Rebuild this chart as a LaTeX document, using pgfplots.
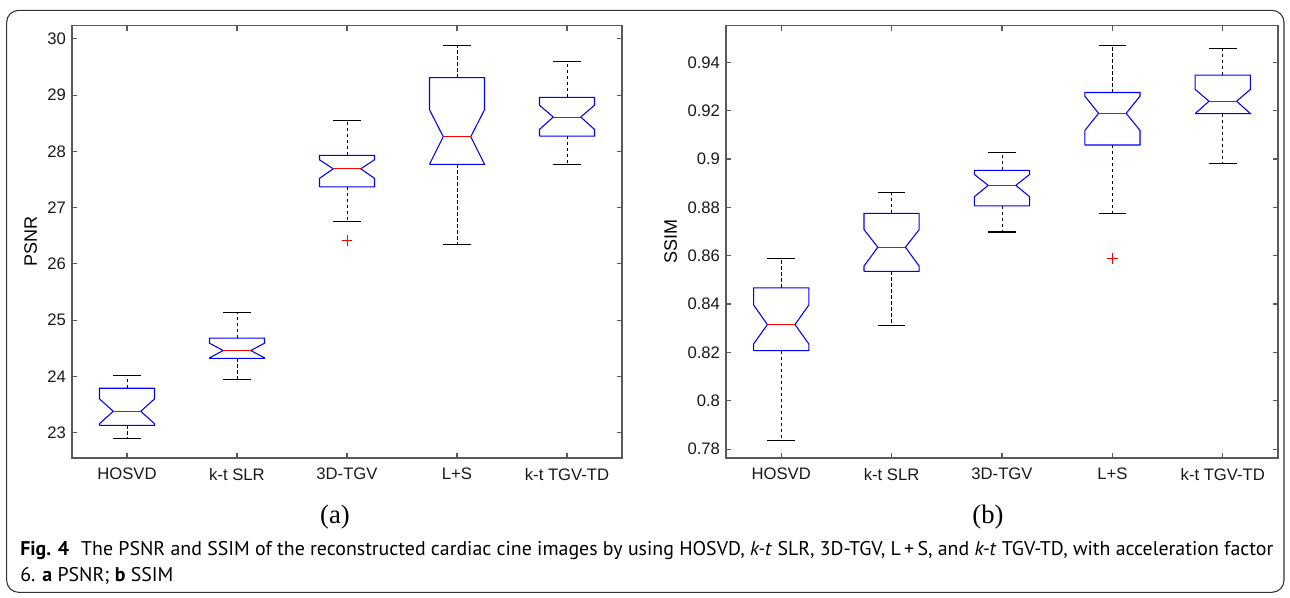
\documentclass[border=0pt]{standalone}
\usepackage{pgfplots}
\pgfplotsset{compat=1.18}
\usepackage{fontspec}
\setmainfont{Liberation Sans}
\newfontfamily\serifab{Liberation Serif}
\newfontfamily\capfont{PT Sans}
\definecolor{axgray}{RGB}{90,90,90}
% x, lower whisker, q1, notch low, median, notch high, q3, upper whisker
\newcommand{\nbox}[8]{%
  \addplot[black, dash pattern=on 2.5pt off 2pt, line width=0.6pt] coordinates {(#1,#7) (#1,#8)};
  \addplot[black, dash pattern=on 2.5pt off 2pt, line width=0.6pt] coordinates {(#1,#3) (#1,#2)};
  \addplot[black, line width=0.8pt] coordinates {({#1-0.125},#8) ({#1+0.125},#8)};
  \addplot[black, line width=0.8pt] coordinates {({#1-0.125},#2) ({#1+0.125},#2)};
  \addplot[blue, line width=0.8pt, fill=white] coordinates {({#1-0.25},#3) ({#1+0.25},#3) ({#1+0.25},#4) ({#1+0.125},#5) ({#1+0.25},#6) ({#1+0.25},#7) ({#1-0.25},#7) ({#1-0.25},#6) ({#1-0.125},#5) ({#1-0.25},#4) ({#1-0.25},#3)};
  \addplot[red, line width=0.8pt] coordinates {({#1-0.125},#5) ({#1+0.125},#5)};
}
\pgfplotsset{
  mybox/.style={
    scale only axis,
    height=324.5pt,
    xmin=0.5, xmax=5.5,
    xtick={1,2,3,4,5},
    xticklabels={HOSVD, k-t SLR, 3D-TGV, L+S, k-t TGV-TD},
    axis line style={axgray, line width=0.8pt},
    tick style={axgray, line width=0.8pt},
    major tick length=4pt,
    tick align=inside,
    every tick label/.append style={font=\fontsize{12.5}{14}\selectfont, text=black!90},
    /pgf/number format/assume math mode=true,
    xticklabel style={yshift=-4pt},
    yticklabel style={xshift=-1pt},
    ylabel style={font=\fontsize{13.5}{15}\selectfont, yshift=1pt},
    clip=false,
  }
}
\begin{document}
\begin{tikzpicture}
\useasboundingbox (0,0) rectangle (967.5pt,447.75pt);
\draw[black!80, line width=0.8pt, rounded corners=9pt] (5pt,3.5pt) rectangle (963pt,440pt);
\begin{axis}[mybox, at={(54pt,104.25pt)}, anchor=south west, width=412.5pt,
  ymin=22.55, ymax=30.24, ytick={23,24,25,26,27,28,29,30}, ylabel={PSNR}]
\nbox{1}{22.89}{23.13}{23.16}{23.38}{23.60}{23.79}{24.02}
\nbox{2}{23.94}{24.32}{24.33}{24.46}{24.59}{24.68}{25.13}
\nbox{3}{26.75}{27.37}{27.52}{27.69}{27.85}{27.93}{28.55}
\nbox{4}{26.34}{27.77}{27.77}{28.26}{28.74}{29.31}{29.88}
\nbox{5}{27.77}{28.27}{28.39}{28.61}{28.82}{28.96}{29.60}
\addplot[red, only marks, mark=+, mark size=4pt, line width=0.7pt] coordinates {(3,26.41)};
\end{axis}
\begin{axis}[mybox, at={(544.5pt,104.25pt)}, anchor=south west, width=414pt,
  ymin=0.7763, ymax=0.9553, ytick={0.78,0.80,0.82,0.84,0.86,0.88,0.90,0.92,0.94},
  yticklabels={0.78,0.8,0.82,0.84,0.86,0.88,0.9,0.92,0.94}, ylabel={SSIM}]
\nbox{1}{0.7835}{0.8207}{0.8235}{0.8315}{0.8396}{0.8467}{0.8588}
\nbox{2}{0.8311}{0.8535}{0.8557}{0.8635}{0.8708}{0.8775}{0.8860}
\nbox{3}{0.8698}{0.8806}{0.8844}{0.8891}{0.8936}{0.8953}{0.9025}
\nbox{4}{0.8776}{0.9058}{0.9118}{0.9189}{0.9260}{0.9275}{0.9471}
\nbox{5}{0.8983}{0.9188}{0.9188}{0.9239}{0.9288}{0.9347}{0.9457}
\addplot[red, only marks, mark=+, mark size=4pt, line width=0.7pt] coordinates {(4,0.8588)};
\end{axis}
\node[font=\serifab\fontsize{20}{22}\selectfont] at (251.25pt,60pt) {(a)};
\node[font=\serifab\fontsize{20}{22}\selectfont] at (741pt,60pt) {(b)};
\node[anchor=west, font=\capfont\fontsize{14.9}{19.5}\selectfont, align=left, inner sep=0pt] at (15pt,25.5pt)
 {\mbox{\textbf{Fig. 4}\hspace{0.6em}The PSNR and SSIM of the reconstructed cardiac cine images by using HOSVD, \textit{k-t} SLR, 3D-TGV, L\,+\,S, and \textit{k-t} TGV-TD, with acceleration factor}\\
 \mbox{6. \textbf{a} PSNR; \textbf{b} SSIM}};
\end{tikzpicture}
\end{document}
